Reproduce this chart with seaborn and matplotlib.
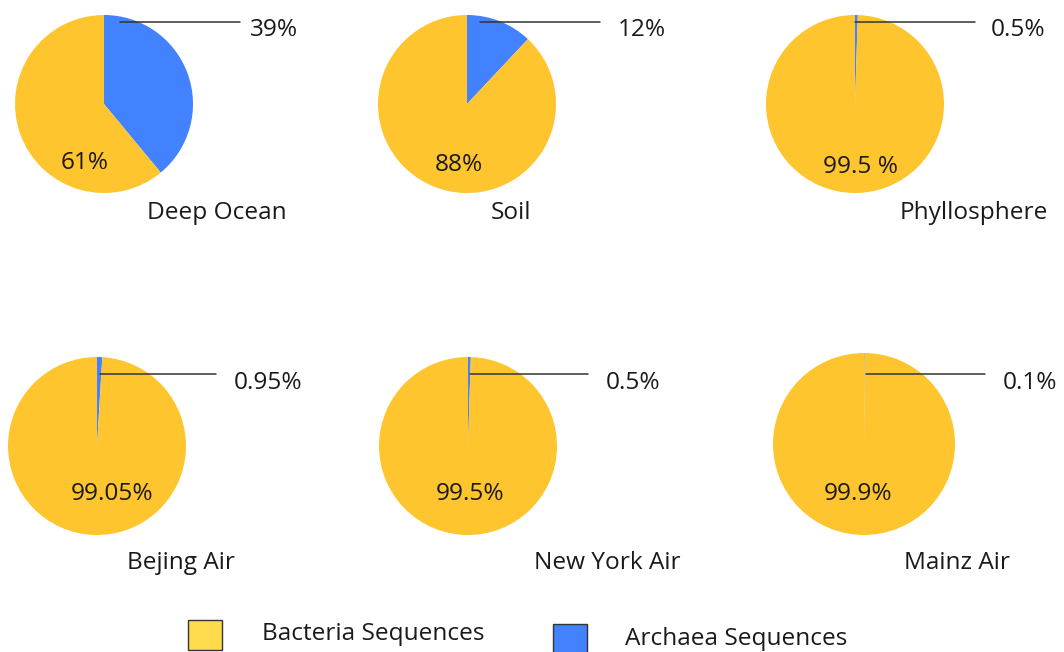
import matplotlib
matplotlib.use('Agg')
import matplotlib.pyplot as plt
from matplotlib.patches import Rectangle
import seaborn as sns

sns.set_theme(style='white')
plt.rcParams['font.family'] = ['Open Sans', 'DejaVu Sans']

# data
sites = ['Deep Ocean', 'Soil', 'Phyllosphere', 'Bejing Air', 'New York Air', 'Mainz Air']
archaea = [39, 12, 0.5, 0.95, 0.5, 0.1]
bacteria = [61, 88, 99.5, 99.05, 99.5, 99.9]
archaea_labels = ['39%', '12%', '0.5%', '0.95%', '0.5%', '0.1%']
bacteria_labels = ['61%', '88%', '99.5 %', '99.05%', '99.5%', '99.9%']
legend_labels = ['Bacteria Sequences', 'Archaea Sequences']

YELLOW = '#FFC52E'
BLUE = '#4282FF'

# layout (pixels): center x, center y, radius
centers = [(104, 104, 89), (467, 104, 89), (855, 104, 89),
           (97, 446, 89), (468, 446, 89), (864, 444, 91)]
# leader line: y, x start, x end, label x, label y (in radius units)
leaders = [(0.92, 0.18, 1.53, 1.64, 0.83),
           (0.92, 0.15, 1.49, 1.69, 0.83),
           (0.92, 0.00, 1.35, 1.52, 0.83),
           (0.81, 0.03, 1.34, 1.54, 0.71),
           (0.81, 0.02, 1.35, 1.55, 0.71),
           (0.77, 0.02, 1.33, 1.52, 0.67)]
inner_pos = [(-0.22, -0.66), (-0.09, -0.68), (0.06, -0.71),
             (0.17, -0.54), (0.02, -0.54), (-0.07, -0.55)]
title_pos = [(1.27, -1.23), (0.5, -1.23), (1.33, -1.23),
             (0.94, -1.31), (1.56, -1.31), (1.02, -1.31)]

W, H = 1064, 652
fig = plt.figure(figsize=(W / 100, H / 100), dpi=100)
FS = 17.6
TXT = '#1a1a1a'

for i, site in enumerate(sites):
    cx, cy, r = centers[i]
    ax = fig.add_axes([(cx - r) / W, 1 - (cy + r) / H, 2 * r / W, 2 * r / H])
    ax.pie([archaea[i], bacteria[i]], colors=[BLUE, YELLOW], startangle=90,
           counterclock=False, radius=1, wedgeprops=dict(linewidth=0))
    ax.set_xlim(-1, 1)
    ax.set_ylim(-1, 1)
    ax.set_aspect('equal')
    ax.axis('off')

    ly, x0, x1, tx, ty = leaders[i]
    ax.plot([x0, x1], [ly, ly], color='#333333', lw=1.1, clip_on=False)
    ax.text(tx, ty, archaea_labels[i], fontsize=FS, color=TXT,
            ha='left', va='center', clip_on=False)
    ix, iy = inner_pos[i]
    ax.text(ix, iy, bacteria_labels[i], fontsize=FS, color=TXT,
            ha='center', va='center')
    sx, sy = title_pos[i]
    ax.text(sx, sy, site, fontsize=FS, color=TXT,
            ha='center', va='center', clip_on=False)

# legend drawn by hand
fig.patches.append(Rectangle((188 / W, 1 - 650 / H), 34 / W, 30 / H,
                             transform=fig.transFigure, facecolor='#FFDB4D',
                             edgecolor='#333333', lw=1))
fig.text(262 / W, 1 - 634 / H, legend_labels[0], fontsize=FS, color=TXT,
         ha='left', va='center')
fig.patches.append(Rectangle((553 / W, 1 - 654 / H), 34 / W, 30 / H,
                             transform=fig.transFigure, facecolor=BLUE,
                             edgecolor='#333333', lw=1))
fig.text(625 / W, 1 - 639 / H, legend_labels[1], fontsize=FS, color=TXT,
         ha='left', va='center')

fig.savefig('out.png', dpi=100, facecolor='white')
